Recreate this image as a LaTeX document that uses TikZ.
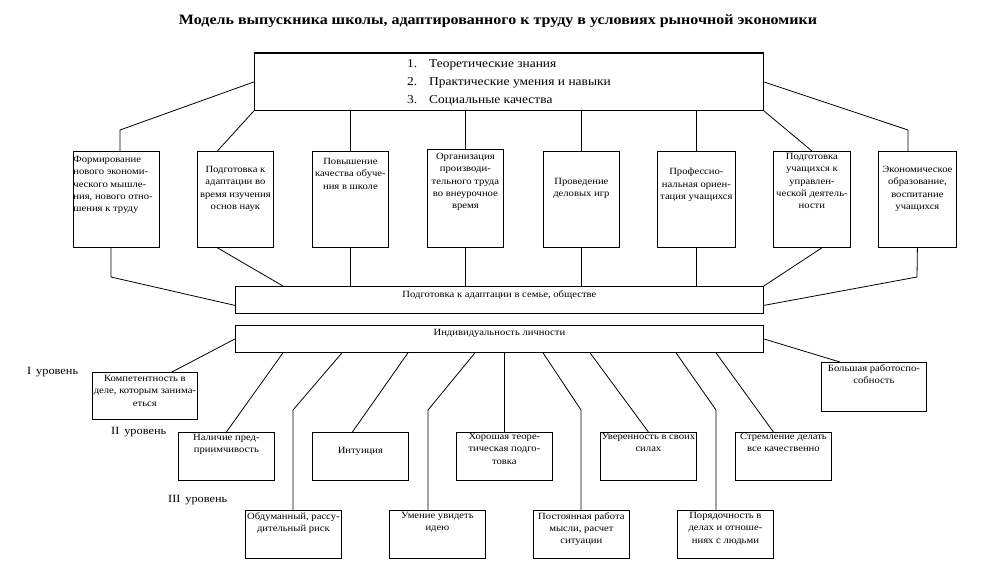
\documentclass[tikz,border=0pt]{standalone}
\usepackage{fontspec}
\setmainfont{Liberation Serif}[FakeStretch=1.12]
\begin{document}
\begin{tikzpicture}[x=1pt,y=-1pt,
  box/.style={draw, line width=0.8pt, inner sep=0pt, anchor=north west, font=\fontsize{9.5}{12.3}\selectfont},
  band/.style={draw, line width=0.8pt, inner sep=0pt, anchor=north west, font=\fontsize{9.5}{12}\selectfont},
  conn/.style={line width=0.8pt},
  lvl/.style={anchor=west, inner sep=0pt, font=\fontsize{11}{13}\selectfont}]
\useasboundingbox (0,0) rectangle (993,579);
\newcommand\bx[7]{\node[box] (#1) at (#2,#3) {\parbox[c][#5pt][t]{#4pt}{\vspace*{#6pt}\centering #7\par}};}
% title
\node[inner sep=0pt, font=\fontsize{14.3}{16}\selectfont\bfseries] (title) at (498,21) {Модель выпускника школы, адаптированного к труду в условиях рыночной экономики};
% top box
\node[draw, line width=0.8pt, anchor=north west, minimum width=509pt, minimum height=57pt, inner sep=0pt, font=\fontsize{12}{14}\selectfont] (top) at (254,53)
 {\renewcommand\arraystretch{1.3}\begin{tabular}{@{}l@{\hspace{12pt}}l@{}}1. & Теоретические знания\\ 2. & Практические умения и навыки\\ 3. & Социальные качества\end{tabular}};
\draw[line width=1.6pt] (top.north west) -- (top.north east);
% row of eight boxes
\bx{b1}{73}{151}{86}{96}{5}{\raggedright Формирование\\нового экономи-\\ческого мышле-\\ния, нового отно-\\шения к труду}
\bx{b2}{197}{151}{76}{96}{15}{Подготовка к\\адаптации во\\время изучения\\основ наук}
\bx{b3}{312}{151}{76}{96}{7}{Повышение\\качества обуче-\\ния в школе}
\bx{b4}{427}{149}{76}{98}{4}{Организация\\производи-\\тельного труда\\во внеурочное\\время}
\bx{b5}{543}{151}{76}{96}{27}{Проведение\\деловых игр}
\bx{b6}{657}{151}{78}{96}{17}{Профессио-\\нальная ориен-\\тация учащихся}
\bx{b7}{773}{151}{77}{96}{2}{Подготовка\\учащихся к\\управлен-\\ческой деятель-\\ности}
\bx{b8}{878}{151}{78}{96}{15}{Экономическое\\образование,\\воспитание\\учащихся}
% bands
\node[band] (band1) at (235,286) {\parbox[c][27pt][t]{528pt}{\vspace*{4pt}\centering Подготовка к адаптации в семье, обществе\par}};
\node[band] (band2) at (235,325) {\parbox[c][27pt][t]{528pt}{\vspace*{4pt}\centering Индивидуальность личности\par}};
% lower boxes
\bx{komp}{92}{372}{105}{47}{3}{Компетентность в\\деле, которым занима-\\еться}
\bx{bol}{821}{362}{105}{49}{2}{Большая работоспо-\\собность}
\bx{naml}{178}{432}{96}{48}{2}{Наличие пред-\\приимчивость}
\bx{int}{312}{432}{96}{48}{15}{Интуиция}
\bx{hor}{456}{432}{96}{48}{1}{Хорошая теоре-\\тическая подго-\\товка}
\bx{uver}{600}{432}{96}{48}{1}{Уверенность в своих\\силах}
\bx{strem}{735}{432}{96}{48}{1}{Стремление делать\\все качественно}
\bx{obd}{245}{510}{96}{48}{2}{Обдуманный, рассу-\\дительный риск}
\bx{umen}{389}{510}{96}{48}{2}{Умение увидеть\\идею}
\bx{post}{533}{510}{96}{48}{2}{Постоянная работа\\мысли, расчет\\ситуации}
\bx{por}{677}{510}{96}{48}{2}{Порядочность в\\делах и отноше-\\ниях с людьми}
% level labels
\node[lvl] (l1) at (27,372) {I\, уровень};
\node[lvl] (l2) at (111,432) {II\, уровень};
\node[lvl] (l3) at (168,500) {III\, уровень};
% bend coordinates
\coordinate (k1) at (120,130);
\coordinate (k8) at (908,130);
\coordinate (m1) at (111,277);
\coordinate (m8) at (917,277);
\coordinate (q2) at (293,410);
\coordinate (q4) at (428,410);
\coordinate (q6) at (581,410);
\coordinate (q8) at (716,410);
% top connectors
\draw[conn] (top.west) -- (k1) -- (k1 |- b1.north);
\draw[conn] (top.south west) -- ([xshift=-18pt]b2.north);
\draw[conn] (b3.north |- top.south) -- (b3.north);
\draw[conn] (b4.north |- top.south) -- (b4.north);
\draw[conn] (b5.north |- top.south) -- (b5.north);
\draw[conn] (b6.north |- top.south) -- (b6.north);
\draw[conn] (top.south east) -- (b7.north);
\draw[conn] (top.east) -- (k8) -- (k8 |- b8.north);
% connectors to band1
\draw[conn] (m1 |- b1.south) -- (m1) -- ([yshift=-5.5pt]band1.west);
\draw[conn] ([xshift=-18pt]b2.south) -- ([xshift=48pt]band1.north west);
\draw[conn] (b3.south) -- (b3.south |- band1.north);
\draw[conn] (b4.south) -- (b4.south |- band1.north);
\draw[conn] (b5.south) -- (b5.south |- band1.north);
\draw[conn] (b6.south) -- (b6.south |- band1.north);
\draw[conn] ([xshift=10pt]b7.south) -- (band1.north east);
\draw[conn] (b8.south) -- (m8) -- ([yshift=-5.5pt]band1.east);
% connectors from band2
\draw[conn] (band2.west) -- ([xshift=27pt]komp.north);
\draw[conn] (band2.east) -- ([xshift=-34pt]bol.north);
\draw[conn] ([xshift=48pt]band2.south west) -- (naml.north);
\draw[conn] ([xshift=107pt]band2.south west) -- (q2) -- (q2 |- obd.north);
\draw[conn] ([xshift=173pt]band2.south west) -- ([xshift=-8pt]int.north);
\draw[conn] ([xshift=240pt]band2.south west) -- (q4) -- (q4 |- umen.north);
\draw[conn] (hor.north |- band2.south) -- (hor.north);
\draw[conn] ([xshift=308pt]band2.south west) -- (q6) -- (q6 |- post.north);
\draw[conn] ([xshift=355pt]band2.south west) -- (uver.north);
\draw[conn] ([xshift=441pt]band2.south west) -- (q8) -- (q8 |- por.north);
\draw[conn] ([xshift=481pt]band2.south west) -- ([xshift=-10pt]strem.north);
\end{tikzpicture}
\end{document}
